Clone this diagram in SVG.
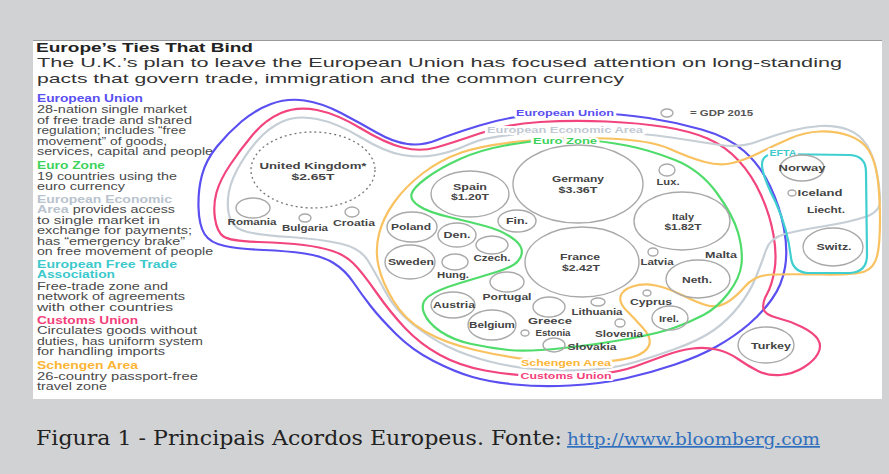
<svg xmlns="http://www.w3.org/2000/svg" width="889" height="474" viewBox="0 0 889 474">
<style>
.c{fill:none;stroke:#a9a9a9;stroke-width:1.4}
.t{font-family:"Liberation Sans",Arial,sans-serif;font-size:9px;font-weight:bold;fill:#444;text-anchor:middle}
.ln{fill:none;stroke-width:2.2;stroke-linejoin:round}
.lab{font-family:"Liberation Sans",Arial,sans-serif;font-weight:bold;font-size:9px;text-anchor:middle;stroke:#fff;stroke-width:4;paint-order:stroke;stroke-linejoin:round}
.lg{font-family:"Liberation Sans",Arial,sans-serif;font-size:10px;fill:#4a4a4a}
.lh{font-weight:bold}
</style>
<rect width="889" height="474" fill="#d1d2d4"/>
<rect x="33" y="40" width="849" height="359" fill="#fff"/>
<line x1="33" y1="40.5" x2="882" y2="40.5" stroke="#9a9a9a" stroke-width="1"/>

<g id="title">
<text x="36" y="52" font-family="Liberation Sans,Arial,sans-serif" font-size="12.5" font-weight="bold" fill="#222" textLength="217" lengthAdjust="spacingAndGlyphs">Europe’s Ties That Bind</text>
<text x="37" y="67" font-family="Liberation Sans,Arial,sans-serif" font-size="13.5" fill="#333" textLength="805" lengthAdjust="spacingAndGlyphs">The U.K.’s plan to leave the European Union has focused attention on long-standing</text>
<text x="37" y="83" font-family="Liberation Sans,Arial,sans-serif" font-size="13.5" fill="#333" textLength="587" lengthAdjust="spacingAndGlyphs">pacts that govern trade, immigration and the common currency</text>
</g>

<g id="legend" class="lg">
<text x="37" y="102" class="lh" fill="#5a4ff0" textLength="106" lengthAdjust="spacingAndGlyphs">European Union</text>
<text x="37" y="113" textLength="150" lengthAdjust="spacingAndGlyphs">28-nation single market</text>
<text x="37" y="124" textLength="155" lengthAdjust="spacingAndGlyphs">of free trade and shared</text>
<text x="37" y="134" textLength="149" lengthAdjust="spacingAndGlyphs">regulation; includes “free</text>
<text x="37" y="145" textLength="130" lengthAdjust="spacingAndGlyphs">movement” of goods,</text>
<text x="37" y="155" textLength="176" lengthAdjust="spacingAndGlyphs">services, capital and people</text>
<text x="37" y="169" class="lh" fill="#3ed35c" textLength="68" lengthAdjust="spacingAndGlyphs">Euro Zone</text>
<text x="37" y="180" textLength="140" lengthAdjust="spacingAndGlyphs">19 countries using the</text>
<text x="37" y="190" textLength="88" lengthAdjust="spacingAndGlyphs">euro currency</text>
<text x="37" y="203" class="lh" fill="#b9c3cd" textLength="135" lengthAdjust="spacingAndGlyphs">European Economic</text>
<text x="37" y="213" textLength="138" lengthAdjust="spacingAndGlyphs"><tspan class="lh" fill="#b9c3cd">Area</tspan> provides access</text>
<text x="37" y="224" textLength="123" lengthAdjust="spacingAndGlyphs">to single market in</text>
<text x="37" y="234" textLength="155" lengthAdjust="spacingAndGlyphs">exchange for payments;</text>
<text x="37" y="245" textLength="148" lengthAdjust="spacingAndGlyphs">has “emergency brake”</text>
<text x="37" y="255" textLength="176" lengthAdjust="spacingAndGlyphs">on free movement of people</text>
<text x="37" y="268" class="lh" fill="#3cc9cc" textLength="140" lengthAdjust="spacingAndGlyphs">European Free Trade</text>
<text x="37" y="278" class="lh" fill="#3cc9cc" textLength="78" lengthAdjust="spacingAndGlyphs">Association</text>
<text x="37" y="290" textLength="131" lengthAdjust="spacingAndGlyphs">Free-trade zone and</text>
<text x="37" y="300" textLength="148" lengthAdjust="spacingAndGlyphs">network of agreements</text>
<text x="37" y="311" textLength="136" lengthAdjust="spacingAndGlyphs">with other countries</text>
<text x="37" y="324" class="lh" fill="#f2407a" textLength="101" lengthAdjust="spacingAndGlyphs">Customs Union</text>
<text x="37" y="334" textLength="160" lengthAdjust="spacingAndGlyphs">Circulates goods without</text>
<text x="37" y="345" textLength="166" lengthAdjust="spacingAndGlyphs">duties, has uniform system</text>
<text x="37" y="355" textLength="128" lengthAdjust="spacingAndGlyphs">for handling imports</text>
<text x="37" y="369" class="lh" fill="#fbb535" textLength="101" lengthAdjust="spacingAndGlyphs">Schengen Area</text>
<text x="37" y="380" textLength="161" lengthAdjust="spacingAndGlyphs">26-country passport-free</text>
<text x="37" y="390" textLength="70" lengthAdjust="spacingAndGlyphs">travel zone</text>
</g>

<g id="connectors">
<path id="eu" class="ln" stroke="#5a4ff0" d="M271,104 Q287,98 304.5,100.5 Q322,103 341,113 Q360,123 376.5,132.5 Q393,142 407.5,144 Q422,146 437,140 Q452,134 479.5,125.5 Q507,117 536,114.5 Q565,112 593.5,113 Q622,114 648.5,118 Q675,122 701.5,129.5 Q728,137 744,151 Q760,165 770,186 Q780,207 784,228.5 Q788,250 785,267.5 Q782,285 772,299 Q762,313 748.5,324.5 Q735,336 717.5,346 Q700,356 675,364.5 Q650,373 625,378.5 Q600,384 570,385.5 Q540,387 515,384.5 Q490,382 472.5,377 Q455,372 433.5,361 Q412,350 396,334 Q380,318 371,306.5 Q362,295 353.5,282.5 Q345,270 333.5,263 Q322,256 304.5,253.5 Q287,251 263.5,250 Q240,249 225,246 Q210,243 204.5,234 Q199,225 198.5,207.5 Q198,190 202,175 Q206,160 217,146.5 Q228,133 241.5,121.5 Q255,110 271,104 Z"/>
<path id="customs" class="ln" stroke="#f2457d" d="M281,113 Q297,106 317,110 Q337,114 361,128.5 Q385,143 402.5,147.5 Q420,152 436,147.5 Q452,143 479.5,133.5 Q507,124 540,122 Q573,120 606.5,121.5 Q640,123 665,127 Q690,131 707.5,138.5 Q725,146 738.5,160.5 Q752,175 761,195 Q770,215 773.5,235 Q777,255 774.5,270 Q772,285 767,294 Q762,303 763.5,309 Q765,315 777.5,318 Q790,321 802,327 Q814,333 818,339.5 Q822,346 818,353.5 Q814,361 803.5,367.5 Q793,374 780.5,375 Q768,376 758,371 Q748,366 738,359 Q728,352 716.5,349.5 Q705,347 692.5,348.5 Q680,350 665,355.5 Q650,361 635,366.5 Q620,372 592.5,375 Q565,378 537.5,376.5 Q510,375 485,370.5 Q460,366 440,355 Q420,344 405,328 Q390,312 376,292 Q362,272 353.5,263.5 Q345,255 332.5,251 Q320,247 303.5,245 Q287,243 258.5,242 Q230,241 223.5,236.5 Q217,232 215,218.5 Q213,205 216.5,192.5 Q220,180 230,165 Q240,150 252.5,135 Q265,120 281,113 Z"/>
<path id="eea" class="ln" stroke="#c6ced6" d="M282.5,121.5 Q297,115 317,119 Q337,123 361,137.5 Q385,152 402.5,155 Q420,158 436,155 Q452,152 469.5,144 Q487,136 526,133.5 Q565,131 604,132 Q643,133 671.5,137.5 Q700,142 720,145 Q740,148 757.5,141.5 Q775,135 790,131 Q805,127 820,126 Q835,125 847.5,129.5 Q860,134 867,145.5 Q874,157 877,173.5 Q880,190 880,201 Q880,212 865,217 Q850,222 825,226 Q800,230 785,234 Q770,238 766,250 Q762,262 756,277 Q750,292 739,306 Q728,320 714,330 Q700,340 675,349 Q650,358 630,363.5 Q610,369 585,370 Q560,371 535,369 Q510,367 487.5,361 Q465,355 447.5,346.5 Q430,338 412.5,324 Q395,310 385,291 Q375,272 367.5,260 Q360,248 340,243.5 Q320,239 290,237 Q260,235 247.5,232 Q235,229 231,220.5 Q227,212 228,198.5 Q229,185 237,170 Q245,155 256.5,141.5 Q268,128 282.5,121.5 Z"/>
<path id="schengen" class="ln" stroke="#f9c261" d="M422.5,173.5 Q440,160 461.5,152.5 Q483,145 524,141 Q565,137 607.5,138.5 Q650,140 670,149 Q690,158 705,162 Q720,166 732.5,163 Q745,160 760,152.5 Q775,145 790,138.5 Q805,132 820,131.5 Q835,131 848.5,135.5 Q862,140 868.5,150 Q875,160 877.5,177.5 Q880,195 880,220 Q880,245 877,256.5 Q874,268 864.5,271.5 Q855,275 822.5,274.5 Q790,274 772.5,274.5 Q755,275 745,286.5 Q735,298 726,303 Q717,308 707.5,305.5 Q698,303 683,295.5 Q668,288 655.5,285.5 Q643,283 632.5,286.5 Q622,290 620.5,296.5 Q619,303 626.5,310.5 Q634,318 643,328 Q652,338 649,345.5 Q646,353 633,357 Q620,361 592.5,362.5 Q565,364 535,360.5 Q505,357 475,350 Q445,343 425,331.5 Q405,320 393.5,301 Q382,282 378.5,266 Q375,250 379,234 Q383,218 394,202.5 Q405,187 422.5,173.5 Z"/>
<path id="eurozone" class="ln" stroke="#4fdc6b" d="M460,159 Q480,150 505,145.5 Q530,141 547.5,140 Q565,139 584,140 Q603,141 626.5,145.5 Q650,150 675,160 Q700,170 716.5,192.5 Q733,215 738,232.5 Q743,250 741.5,264 Q740,278 728.5,293 Q717,308 703.5,315 Q690,322 675,327.5 Q660,333 630,338.5 Q600,344 563.5,348 Q527,352 508.5,350 Q490,348 471.5,344 Q453,340 440.5,331.5 Q428,323 424,313 Q420,303 428.5,296.5 Q437,290 458.5,283.5 Q480,277 496.5,272 Q513,267 518,261 Q523,255 521.5,249 Q520,243 510,236.5 Q500,230 485,226 Q470,222 449,217 Q428,212 419,206 Q410,200 411.5,194 Q413,188 426.5,178 Q440,168 460,159 Z"/>
<path id="efta" class="ln" stroke="#3fcfd0" d="M775,154 L850,155 Q866,156 866,172 L867,255 Q867,272 850,273 L808,273 Q793,272 791,258 Q788,230 776,203 Q762,175 762,165 Q762,154 775,154 Z"/>
<text class="lab" x="565" y="116" fill="#5a4ff0" textLength="98" lengthAdjust="spacingAndGlyphs">European Union</text>
<text class="lab" x="565" y="133" font-size="8" fill="#c2cad3" textLength="156" lengthAdjust="spacingAndGlyphs">European Economic Area</text>
<text class="lab" x="565" y="144" font-size="8.5" fill="#3ed35c" textLength="64" lengthAdjust="spacingAndGlyphs">Euro Zone</text>
<text class="lab" x="566" y="366" fill="#fbb535" textLength="90" lengthAdjust="spacingAndGlyphs">Schengen Area</text>
<text class="lab" x="566" y="379" fill="#f2407a" textLength="91" lengthAdjust="spacingAndGlyphs">Customs Union</text>
<text class="lab" x="783" y="156" fill="#3cc9cc" textLength="27" lengthAdjust="spacingAndGlyphs">EFTA</text>
</g>

<g id="gdp-key">
<ellipse class="c" cx="667" cy="113" rx="6" ry="4"/>
<text x="690" y="116" font-family="Liberation Sans,Arial,sans-serif" font-size="9" font-weight="bold" fill="#555" textLength="63" lengthAdjust="spacingAndGlyphs">= GDP 2015</text>
</g>

<g id="uk"><ellipse cx="313" cy="170" rx="62" ry="38" fill="none" stroke="#777" stroke-width="1.3" stroke-dasharray="2 3"/><text class="t" x="313" y="169" textLength="107" lengthAdjust="spacingAndGlyphs">United Kingdom*</text><text class="t" x="313" y="180" textLength="43" lengthAdjust="spacingAndGlyphs">$2.65T</text></g>
<g id="romania"><ellipse class="c" cx="253" cy="208" rx="17" ry="10"/><text class="t" x="252" y="225" textLength="49" lengthAdjust="spacingAndGlyphs">Romania</text></g>
<g id="bulgaria"><ellipse class="c" cx="305" cy="218" rx="6" ry="4"/><text class="t" x="305" y="231" textLength="46" lengthAdjust="spacingAndGlyphs">Bulgaria</text></g>
<g id="croatia"><ellipse class="c" cx="352" cy="212" rx="7" ry="5"/><text class="t" x="354" y="226" textLength="42" lengthAdjust="spacingAndGlyphs">Croatia</text></g>
<g id="germany"><ellipse class="c" cx="578" cy="184" rx="65" ry="39"/><text class="t" x="578" y="182" textLength="52" lengthAdjust="spacingAndGlyphs">Germany</text><text class="t" x="578" y="193" textLength="39" lengthAdjust="spacingAndGlyphs">$3.36T</text></g>
<g id="spain"><ellipse class="c" cx="470" cy="194" rx="39" ry="23"/><text class="t" x="470" y="190" textLength="34" lengthAdjust="spacingAndGlyphs">Spain</text><text class="t" x="470" y="200" textLength="38" lengthAdjust="spacingAndGlyphs">$1.20T</text></g>
<g id="france"><ellipse class="c" cx="582" cy="262" rx="57" ry="35"/><text class="t" x="580" y="260" textLength="40" lengthAdjust="spacingAndGlyphs">France</text><text class="t" x="581" y="271" textLength="38" lengthAdjust="spacingAndGlyphs">$2.42T</text></g>
<g id="italy"><ellipse class="c" cx="682" cy="221" rx="48" ry="29"/><text class="t" x="683" y="220" textLength="22" lengthAdjust="spacingAndGlyphs">Italy</text><text class="t" x="683" y="230" textLength="37" lengthAdjust="spacingAndGlyphs">$1.82T</text></g>
<g id="lux"><ellipse class="c" cx="667" cy="170" rx="8" ry="6"/><text class="t" x="668" y="185" textLength="23" lengthAdjust="spacingAndGlyphs">Lux.</text></g>
<g id="poland"><ellipse class="c" cx="412" cy="227" rx="25" ry="15"/><text class="t" x="411" y="230" textLength="40" lengthAdjust="spacingAndGlyphs">Poland</text></g>
<g id="denmark"><ellipse class="c" cx="457" cy="235" rx="19" ry="12"/><text class="t" x="457" y="238" textLength="27" lengthAdjust="spacingAndGlyphs">Den.</text></g>
<g id="finland"><ellipse class="c" cx="517" cy="221" rx="19" ry="11"/><text class="t" x="517" y="224" textLength="22" lengthAdjust="spacingAndGlyphs">Fin.</text></g>
<g id="sweden"><ellipse class="c" cx="410" cy="262" rx="25" ry="17"/><text class="t" x="411" y="265" textLength="46" lengthAdjust="spacingAndGlyphs">Sweden</text></g>
<g id="hungary"><ellipse class="c" cx="455" cy="262" rx="13" ry="8"/><text class="t" x="453" y="278" textLength="32" lengthAdjust="spacingAndGlyphs">Hung.</text></g>
<g id="czech"><ellipse class="c" cx="492" cy="245" rx="16" ry="9"/><text class="t" x="492" y="261" textLength="37" lengthAdjust="spacingAndGlyphs">Czech.</text></g>
<g id="portugal"><ellipse class="c" cx="507" cy="282" rx="17" ry="10"/><text class="t" x="507" y="300" textLength="49" lengthAdjust="spacingAndGlyphs">Portugal</text></g>
<g id="austria"><ellipse class="c" cx="453" cy="305" rx="22" ry="13"/><text class="t" x="454" y="308" textLength="42" lengthAdjust="spacingAndGlyphs">Austria</text></g>
<g id="belgium"><ellipse class="c" cx="492" cy="325" rx="24" ry="15"/><text class="t" x="492" y="328" textLength="46" lengthAdjust="spacingAndGlyphs">Belgium</text></g>
<g id="greece"><ellipse class="c" cx="549" cy="307" rx="16" ry="10"/><text class="t" x="550" y="324" textLength="44" lengthAdjust="spacingAndGlyphs">Greece</text></g>
<g id="estonia"><ellipse class="c" cx="525" cy="333" rx="4" ry="3"/><text class="t" x="553" y="336" textLength="35" lengthAdjust="spacingAndGlyphs">Estonia</text></g>
<g id="slovakia"><ellipse class="c" cx="554" cy="345" rx="11" ry="7"/><text class="t" x="592" y="350" textLength="49" lengthAdjust="spacingAndGlyphs">Slovakia</text></g>
<g id="lithuania"><ellipse class="c" cx="598" cy="302" rx="7" ry="4"/><text class="t" x="597" y="315" textLength="51" lengthAdjust="spacingAndGlyphs">Lithuania</text></g>
<g id="slovenia"><ellipse class="c" cx="620" cy="323" rx="5" ry="4"/><text class="t" x="619" y="337" textLength="48" lengthAdjust="spacingAndGlyphs">Slovenia</text></g>
<g id="latvia"><ellipse class="c" cx="653" cy="252" rx="5" ry="4"/><text class="t" x="657" y="265" textLength="33" lengthAdjust="spacingAndGlyphs">Latvia</text></g>
<g id="malta"><text class="t" x="721" y="258" textLength="32" lengthAdjust="spacingAndGlyphs">Malta</text></g>
<g id="netherlands"><ellipse class="c" cx="698" cy="279" rx="32" ry="19"/><text class="t" x="697" y="283" textLength="30" lengthAdjust="spacingAndGlyphs">Neth.</text></g>
<g id="cyprus"><ellipse class="c" cx="647" cy="293" rx="4" ry="3"/><text class="t" x="651" y="305" textLength="42" lengthAdjust="spacingAndGlyphs">Cyprus</text></g>
<g id="ireland"><ellipse class="c" cx="670" cy="318" rx="18" ry="12"/><text class="t" x="669" y="322" textLength="20" lengthAdjust="spacingAndGlyphs">Irel.</text></g>
<g id="turkey"><ellipse class="c" cx="766" cy="345" rx="28" ry="18"/><text class="t" x="771" y="349" textLength="40" lengthAdjust="spacingAndGlyphs">Turkey</text></g>
<g id="norway"><ellipse class="c" cx="802" cy="168" rx="22" ry="13"/><text class="t" x="802" y="171" textLength="47" lengthAdjust="spacingAndGlyphs">Norway</text></g>
<g id="iceland"><ellipse class="c" cx="792" cy="193" rx="4" ry="3"/><text class="t" x="820" y="196" textLength="45" lengthAdjust="spacingAndGlyphs">Iceland</text></g>
<g id="liechtenstein"><text class="t" x="826" y="213" textLength="38" lengthAdjust="spacingAndGlyphs">Liecht.</text></g>
<g id="switzerland"><ellipse class="c" cx="833" cy="247" rx="30" ry="19"/><text class="t" x="834" y="250" textLength="35" lengthAdjust="spacingAndGlyphs">Switz.</text></g>

<g id="caption">
<text x="36" y="445" font-family="DejaVu Serif,Liberation Serif,serif" font-size="21" fill="#222" textLength="526" lengthAdjust="spacingAndGlyphs">Figura 1 - Principais Acordos Europeus. Fonte:</text>
<text x="567" y="445" font-family="DejaVu Serif,Liberation Serif,serif" font-size="17" fill="#2f6fbd" text-decoration="underline" textLength="253" lengthAdjust="spacingAndGlyphs">http://www.bloomberg.com</text>
</g>
</svg>
